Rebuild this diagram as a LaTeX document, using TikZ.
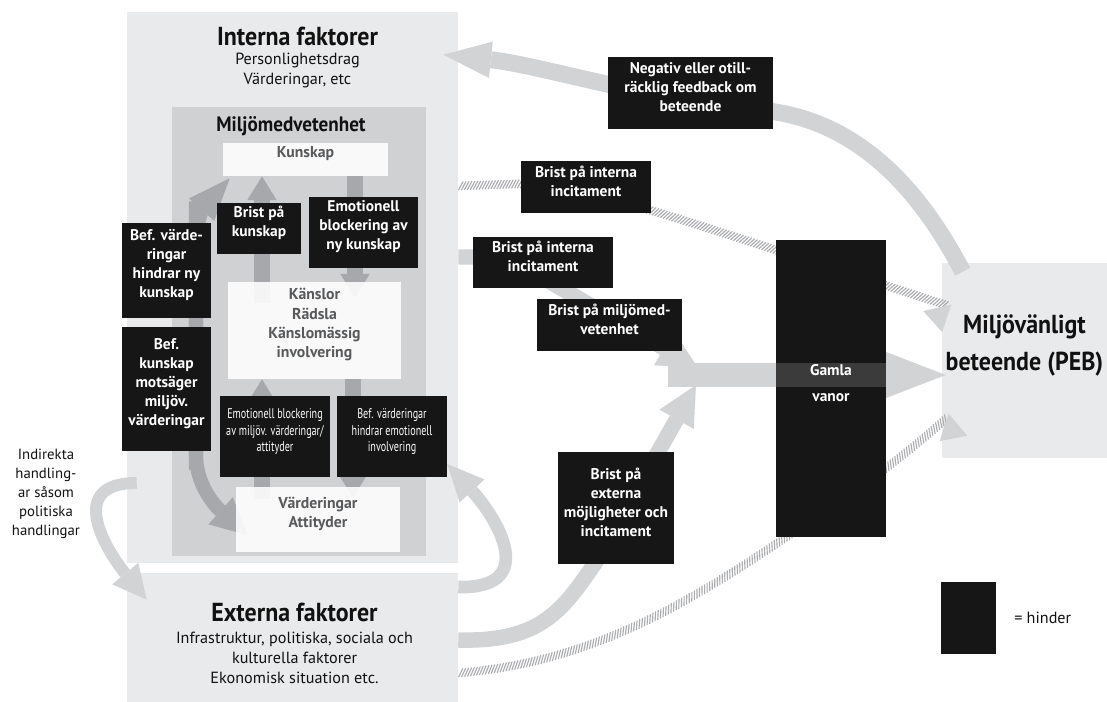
\documentclass[tikz,border=0pt]{standalone}
\usepackage{fontspec}
\setmainfont{PT Sans}
\newfontfamily\condfont[FakeStretch=0.72]{PT Sans}
\newfontfamily\titlefont[FakeStretch=0.92]{PT Sans}
\usetikzlibrary{arrows.meta,calc,fit,decorations.pathreplacing,decorations.markings}

\definecolor{boxlight}{HTML}{E9EAEB}
\definecolor{boxmid}{HTML}{D0D1D3}
\definecolor{bandgray}{HTML}{D1D3D4}
\definecolor{innergray}{HTML}{A6A8AB}
\definecolor{hatchgray}{HTML}{A9ABAE}
\definecolor{hinderfill}{HTML}{161616}
\definecolor{textgray}{HTML}{58595B}
\definecolor{titleblack}{HTML}{111111}

\pgfdeclarelayer{backdrop}
\pgfdeclarelayer{inner}
\pgfdeclarelayer{bands}
\pgfsetlayers{backdrop,inner,bands,main}

\begin{document}
\begin{tikzpicture}[x=0.025cm,y=-0.025cm,
		area/.style={fill=boxlight,inner sep=0pt},
		whitebox/.style={fill=white,fill opacity=0.88,text opacity=1,text=textgray,inner sep=0pt,align=center,font=\bfseries\fontsize{11.2}{13.8}\selectfont},
		hinder/.style={fill=hinderfill,text=white,inner sep=0pt,align=center,font=\bfseries\fontsize{11}{13.5}\selectfont},
		hindercond/.style={hinder,font=\condfont\fontsize{10}{12}\selectfont},
		title/.style={font=\titlefont\bfseries\fontsize{18.5}{26}\selectfont,text=titleblack,align=center},
		bodytext/.style={align=center,font=\fontsize{11.5}{14.2}\selectfont,text=titleblack},
		band/.style={draw=bandgray,line width=#1},
		band/.default=11pt,
		inband/.style={draw=innergray,line width=#1},
		inband/.default=12pt,
		hatch/.style={draw=hatchgray,line width=0.8pt,decorate,decoration={border,segment length=2.1pt,amplitude=7pt,angle=60,raise=-3pt}}
	]
	\useasboundingbox (0,0) rectangle (1107,702);

	% faktorer och beteende
	\begin{pgfonlayer}{backdrop}
		\node[area,fit={(127,12) (458,563)}] (interna) {};
		\node[area,fit={(127,573) (458,702)}] (externa) {};
		\node[area,fit={(942,263) (1107,458)}] (peb) {};
		\node[fill=boxmid,inner sep=0pt,fit={(172,107) (426,556)}] (medv) {};
	\end{pgfonlayer}
	\node[title] (intTitle) at ($(interna.north)+(5,25)$) {Interna faktorer};
	\node[bodytext] (intSub) at ($(interna.north)+(5,59)$) {Personlighetsdrag\\Värderingar, etc};
	\node[title,font=\titlefont\bfseries\fontsize{14.8}{16}\selectfont] (medvTitle) at ($(medv.north)+(-8,19)$) {Miljömedvetenhet};

	\node[whitebox,fit={(223,143) (388,176)}] (kunskap) {Kunskap};
	\node[whitebox,fit={(228,282) (401,379)}] (kanslor) {Känslor\\Rädsla\\Känslomässig\\involvering};
	\node[whitebox,fit={(236,487) (400,552)}] (varde) {Värderingar\\Attityder};

	% hinder
	\coordinate (merge) at (668,375);
	\coordinate (bandtop) at (668,363);
	\coordinate (bandbot) at (668,387);
	\node[hinder,fit={(217,203) (301,254)}] (bristkunskap) {Brist på\\kunskap};
	\node[hinder,fit={(309,197) (418,268)}] (emoblock) {Emotionell\\blockering av\\ny kunskap};
	\node[hinder,fit={(122,223) (211,318)}] (befvarde) {Bef. värde-\\ringar\\hindrar ny\\kunskap};
	\node[hinder,fit={(122,327) (211,451)}] (befkunskap) {Bef.\\kunskap\\motsäger\\miljöv.\\värderingar};
	\node[hindercond,fit={(220,396) (330,477)}] (emomiljo) {Emotionell blockering\\av miljöv. värderingar/\\attityder};
	\node[hindercond,fit={(337,396) (447,477)}] (befemo) {Bef. värderingar\\hindrar emotionell\\involvering};
	\node[hinder,fit={(608,57) (773,129)}] (negativ) {Negativ eller otill-\\räcklig feedback om\\beteende};
	\node[hinder,fit={(521,161) (651,213)}] (internaA) {Brist på interna\\incitament};
	\node[hinder,fit={(473,237) (613,288)}] (internaB) {Brist på interna\\incitament};
	\node[hinder,fit={(537,299) (682,351)}] (bristmedv) {Brist på miljömed-\\vetenhet};
	\node[hinder,fit={(558,452) (674,564)}] (externaB) {Brist på\\externa\\möjligheter och\\incitament};
	\node[hinder,font=\bfseries\fontsize{11}{19}\selectfont,fit={(776,240) (886,537)},path picture={\fill[bandgray,opacity=0.2] (bandtop -| path picture bounding box.west) rectangle (bandbot -| path picture bounding box.east);}] (vanor) {Gamla\\vanor};

	% pilar inom miljömedvetenhet
	\begin{pgfonlayer}{inner}
		\draw[inband,-{Triangle[width=21pt,length=17pt,line width=0pt]}] ($(kanslor.north -| 262,0)+(0,21)$) -- (kunskap.south -| 262,0);
		\draw[inband,-{Triangle[width=21pt,length=17pt,line width=0pt]}] (kunskap.south -| 355,0) -- ($(kanslor.north -| 355,0)+(0,16)$);
		\draw[inband,-{Triangle[width=21pt,length=17pt,line width=0pt]}] ($(varde.north -| 262,0)+(0,12)$) -- (kanslor.south -| 262,0);
		\draw[inband,-{Triangle[width=21pt,length=17pt,line width=0pt]}] (kanslor.south -| 353,0) -- ($(varde.north -| 353,0)+(0,11)$);
		\draw[inband=10pt,-{Triangle[width=24pt,length=30pt,line width=0pt]}] ($(varde.west -| 196,0)+(0,-50)$) -- (196,240) .. controls (196,222) and (204,207) .. ($(kunskap.south west)+(7,2)$);
		\draw[inband=10pt,-{Triangle[width=26pt,length=26pt,line width=0pt]}] ($(kunskap.south west -| 196,0)+(0,25)$) -- (196,455) .. controls (196,482) and (212,503) .. ($(varde.south west)+(12,-17)$);
	\end{pgfonlayer}

	% yttre pilar
	\begin{pgfonlayer}{bands}
		\draw[band=12pt,-{Triangle[width=26pt,length=34pt,line width=0pt]}] ($(peb.north west)+(21,9)$) .. controls (915,180) and (850,118) .. (760,110) .. controls (650,100) and (540,65) .. ($(interna.north east)+(-15,43)$);
		\draw[band,-{Triangle[width=28pt,length=28pt,line width=0pt]}] (interna.east |- 0,257) -- (490,257) .. controls (515,257) and (525,265) .. (552,283) -- ($(merge)+(30,-7)$);
		\draw[band,-{Triangle[width=28pt,length=28pt,line width=0pt]}] (externa.east |- 0,640) .. controls (540,642) and (562,612) .. (597,560) -- ($(merge)+(28,10)$);
		\draw[band=9pt,-{Triangle[width=24pt,length=26pt,line width=0pt]}] (externa.east |- 0,587) .. controls (540,589) and (497,518) .. (befemo.south east |- 0,464);
		\draw[band=8.5pt,-{Triangle[width=24pt,length=24pt,line width=0pt]}] ($(interna.west |- 0,483)+(10,0)$) .. controls (62,483) and (110,555) .. ($(externa.north west)+(20,27)$);
		\draw[band=17pt,-{Triangle[width=34pt,length=44pt,line width=0pt]}] (merge) -- ($(peb.west |- merge)+(4,0)$);
		\draw[hatch,postaction={decorate,decoration={markings,mark=at position 1 with {\arrow[bandgray]{Triangle[width=20pt,length=18pt,line width=0pt]}}}}] (interna.east |- 0,186) -- (515,184) .. controls (560,183) and (620,200) .. (720,232) -- ($(peb.west |- 0,300)+(4,5)$);
		\draw[hatch,postaction={decorate,decoration={markings,mark=at position 1 with {\arrow[bandgray]{Triangle[width=20pt,length=18pt,line width=0pt]}}}}] (externa.east |- 0,673) .. controls (600,662) and (700,595) .. (800,528) .. controls (870,482) and (905,455) .. ($(peb.south west)+(6,-41)$);
	\end{pgfonlayer}

	% texter
	\node[title] (pebText) at ($(peb.center)+(0,-15)$) {Miljövänligt\\beteende (PEB)};
	\node[title] (extTitle) at ($(externa.north)+(2,40)$) {Externa faktorer};
	\node[bodytext] (extSub) at ($(externa.north)+(2,85)$) {Infrastruktur, politiska, sociala och\\kulturella faktorer\\Ekonomisk situation etc.};
	\node[bodytext,font=\fontsize{10.5}{13.5}\selectfont] (indirekta) at (46,494) {Indirekta\\handling-\\ar såsom\\politiska\\handlingar};
	\node[hinder,fit={(941,582) (996,654)}] (legend) {};
	\node[bodytext,anchor=west] (legendText) at ($(legend.east)+(13,0)$) {= hinder};
\end{tikzpicture}
\end{document}
